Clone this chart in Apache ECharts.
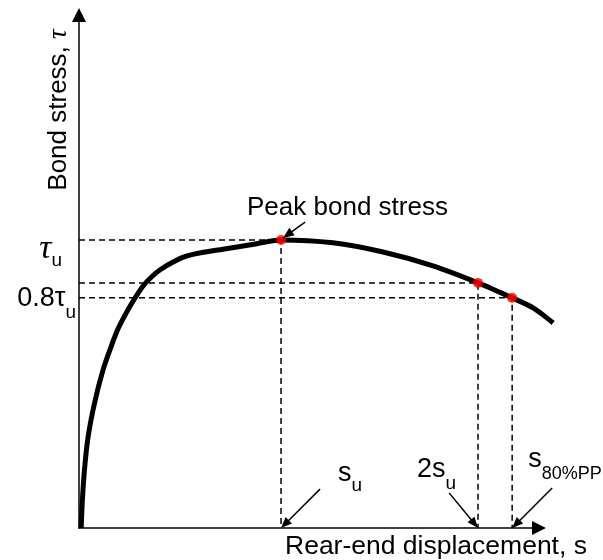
<!DOCTYPE html>
<html>
<head>
<meta charset="utf-8">
<script src="https://cdn.jsdelivr.net/npm/echarts@6/dist/echarts.min.js"></script>
<style>
  html, body { margin: 0; padding: 0; background: #fff; }
  #main { width: 603px; height: 560px; }
</style>
</head>
<body>
<div id="main"></div>
<script>
// bond-slip curve, s in units of s_u, tau in units of tau_u
var curveS = [0.011, 0.016, 0.027, 0.045, 0.077, 0.119, 0.158, 0.191, 0.218, 0.262, 0.317, 0.364, 0.407, 0.457, 0.507, 0.564, 0.713, 0.881, 1.0, 1.257, 1.505, 1.752, 1.975, 2.144, 2.248, 2.347];
var curveTau = [0, 0.087, 0.201, 0.316, 0.434, 0.549, 0.628, 0.688, 0.726, 0.781, 0.840, 0.875, 0.899, 0.920, 0.938, 0.950, 0.968, 0.987, 1.0, 0.990, 0.958, 0.910, 0.851, 0.799, 0.764, 0.712];

// marked points: peak, 2s_u, s_80%PP
var keyS = [1.0, 1.975, 2.144];
var keyTau = [1.0, 0.851, 0.799];

// arrows [tail, tip]
var peakArrow = [[1.119, 1.062], [1.010, 1.007]];
var suArrow = [[1.193, 0.135], [1.0, 0.0]];
var twoSuArrow = [[1.832, 0.122], [1.975, 0.0]];
var s80Arrow = [[2.342, 0.139], [2.144, 0.0]];

var sMax = 2.361;   // data extent, curve runs past the axis arrow
var tauMax = 1.781;

var FONT = '"Liberation Sans", Arial, sans-serif';
var SERIF = '"Liberation Serif", "Times New Roman", serif';

var chartDom = document.getElementById('main');
var myChart = echarts.init(chartDom);

var dashSeries = keyS.map(function (s, i) {
  return {
    type: 'line',
    data: [[0, keyTau[i]], [s, keyTau[i]], [s, 0]],
    symbol: 'none',
    silent: true,
    lineStyle: { color: '#000', width: 1.5, type: [6, 4] },
    z: 1
  };
});

var arrowLine = {
  onZero: false,
  lineStyle: { color: '#000', width: 1.5 },
  symbol: ['none', 'triangle'],
  symbolSize: [14, 14]
};
var hidden = { axisTick: { show: false }, axisLabel: { show: false }, splitLine: { show: false } };

var option = {
  animation: false,
  grid: [
    { left: 79, right: 47, top: 15, bottom: 32 },
    { left: 79, right: 64, top: 15, bottom: 32 }
  ],
  xAxis: [
    Object.assign({ type: 'value', gridIndex: 0, min: 0, max: sMax, axisLine: { show: false } }, hidden),
    Object.assign({ type: 'value', gridIndex: 1, min: 0, max: 1, axisLine: arrowLine }, hidden)
  ],
  yAxis: [
    Object.assign({ type: 'value', gridIndex: 0, min: 0, max: tauMax, axisLine: arrowLine }, hidden),
    Object.assign({ type: 'value', gridIndex: 1, min: 0, max: 1, axisLine: { show: false } }, hidden)
  ],
  series: dashSeries.concat([
    {
      type: 'line',
      data: curveS.map(function (s, i) { return [s, curveTau[i]]; }),
      smooth: 0.3,
      symbol: 'none',
      clip: false,
      silent: true,
      lineStyle: { color: '#000', width: 5, join: 'round' },
      z: 2
    },
    {
      type: 'scatter',
      data: keyS.map(function (s, i) { return [s, keyTau[i]]; }),
      symbolSize: 10,
      itemStyle: { color: '#ff0000' },
      z: 3
    }
  ])
};
myChart.setOption(option);

function px(p) {
  return myChart.convertToPixel({ gridIndex: 0 }, p);
}

function arrow(pair) {
  var a = px(pair[0]), b = px(pair[1]);
  var dx = b[0] - a[0], dy = b[1] - a[1];
  var len = Math.sqrt(dx * dx + dy * dy);
  var ux = dx / len, uy = dy / len;
  var hl = 11, hw = 4.5;
  var bx = b[0] - ux * hl, by = b[1] - uy * hl;
  return [
    { type: 'line', shape: { x1: a[0], y1: a[1], x2: bx + ux, y2: by + uy }, style: { stroke: '#000', lineWidth: 1.5 }, z: 10 },
    { type: 'polygon', shape: { points: [[b[0], b[1]], [bx - uy * hw, by + ux * hw], [bx + uy * hw, by - ux * hw]] }, style: { fill: '#000' }, z: 10 }
  ];
}

// main text + subscript, d = how far the subscript baseline drops
function subRich(mainSize, mainFont, mainStyle, subSize, d) {
  return {
    m: { fontFamily: mainFont, fontSize: mainSize, fontStyle: mainStyle, lineHeight: mainSize, verticalAlign: 'top', fill: '#000' },
    s: { fontFamily: FONT, fontSize: subSize, lineHeight: Math.round(0.83 * mainSize + d + 3), verticalAlign: 'bottom', fill: '#000' }
  };
}

function label(anchor, dx, dy, text, rich, align) {
  var p = px(anchor);
  return {
    type: 'text', x: p[0] + dx, y: p[1] + dy, z: 10,
    style: { text: text, rich: rich, align: align, verticalAlign: 'top' }
  };
}

var origin = px([0, 0]);
var peak = px([keyS[0], keyTau[0]]);
var graphics = []
  .concat(arrow(peakArrow), arrow(suArrow), arrow(twoSuArrow), arrow(s80Arrow))
  .concat([
    label([0, keyTau[0]], -17, -8, '{m|τ}{s|u}', subRich(34, SERIF, 'italic', 19, 7), 'right'),
    label([0, keyTau[2]], -3, -13, '{m|0.8τ}{s|u}', subRich(27, FONT, 'normal', 19, 12), 'right'),
    label([keyS[0], 0], 57, -68, '{m|s}{s|u}', subRich(27, FONT, 'normal', 19, 10), 'left'),
    label([keyS[1], 0], -61, -72, '{m|2s}{s|u}', subRich(27, FONT, 'normal', 19, 12), 'left'),
    label([keyS[2], 0], 16, -82, '{m|s}{s|80%PP}', subRich(27, FONT, 'normal', 18, 12), 'left'),
    {
      type: 'text', x: peak[0] - 34, y: peak[1] - 45, z: 10,
      style: { text: 'Peak bond stress', fontFamily: FONT, fontSize: 26, lineHeight: 26, fill: '#000', align: 'left', verticalAlign: 'top' }
    },
    {
      type: 'text', x: origin[0] + 206, y: origin[1] + 6, z: 10,
      style: { text: 'Rear-end displacement, s', fontFamily: FONT, fontSize: 26.5, lineHeight: 26, fill: '#000', align: 'left', verticalAlign: 'top' }
    },
    {
      type: 'text', x: origin[0] - 20, y: 110, rotation: Math.PI / 2, z: 10,
      style: {
        text: '{a|Bond stress, }{t|τ}', align: 'center', verticalAlign: 'middle',
        rich: {
          a: { fontFamily: FONT, fontSize: 26, fill: '#000' },
          t: { fontFamily: SERIF, fontStyle: 'italic', fontSize: 27, fill: '#000' }
        }
      }
    }
  ]);

myChart.setOption({ graphic: graphics });
</script>
</body>
</html>
